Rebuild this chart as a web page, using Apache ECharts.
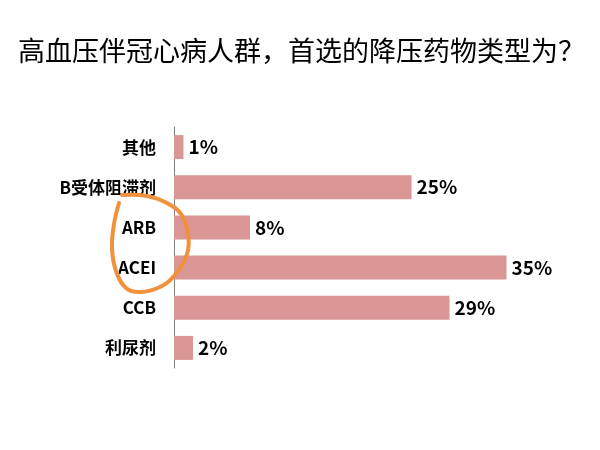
<!DOCTYPE html>
<html lang="zh">
<head>
    <meta charset="UTF-8">
    <title>降压药物类型</title>
    <style>
        html, body { margin: 0; padding: 0; background: #fff; }
        #chart { width: 600px; height: 450px; }
    </style>
</head>
<body>
    <div id="chart"></div>
    <script src="https://cdn.jsdelivr.net/npm/echarts@6/dist/echarts.min.js"></script>
    <script>
        // 药物类型（从上到下）和对应百分比
        const drugTypes = ['其他', 'B受体阻滞剂', 'ARB', 'ACEI', 'CCB', '利尿剂']
        const percents = [1, 25, 8, 35, 29, 2]

        const font = '"Noto Sans CJK SC", "Noto Sans", sans-serif'
        const chart = echarts.init(document.getElementById('chart'))

        chart.setOption({
            backgroundColor: '#fff',
            title: {
                text: '高血压伴冠心病人群，首选的降压药物类型为？',
                left: 13,
                top: 32,
                textStyle: {
                    fontFamily: font,
                    fontSize: 27,
                    fontWeight: 'normal',
                    color: '#000'
                }
            },
            grid: {
                left: 174,
                right: 46,
                top: 127,
                height: 241
            },
            xAxis: {
                type: 'value',
                min: 0,
                max: 40,
                show: false
            },
            yAxis: {
                type: 'category',
                data: drugTypes,
                inverse: true,
                axisLine: { lineStyle: { color: '#7f7f7f', width: 1 } },
                axisTick: { show: false },
                axisLabel: {
                    margin: 18,
                    color: '#000',
                    fontFamily: font,
                    fontSize: 17,
                    fontWeight: 'bold'
                }
            },
            series: [{
                type: 'bar',
                data: percents,
                barWidth: 24,
                itemStyle: { color: '#d99694' },
                label: {
                    show: true,
                    position: 'right',
                    distance: 5,
                    formatter: '{c}%',
                    color: '#000',
                    fontFamily: font,
                    fontSize: 19,
                    fontWeight: 'bold'
                },
                silent: true
            }],
            // 手绘的橙色圈，圈住 ARB 和 ACEI
            graphic: [{
                type: 'polyline',
                z: 100,
                shape: {
                    smooth: 0.4,
                    points: [
                        [122, 195], [147, 196], [167, 203], [181, 214], [188, 233],
                        [187, 254], [174, 276], [160, 287], [140, 292], [126, 288],
                        [116, 271], [112, 248], [114, 224], [119, 203]
                    ]
                },
                style: {
                    stroke: '#f0923c',
                    lineWidth: 4,
                    fill: null,
                    lineCap: 'round'
                }
            }]
        })
    </script>
</body>
</html>
